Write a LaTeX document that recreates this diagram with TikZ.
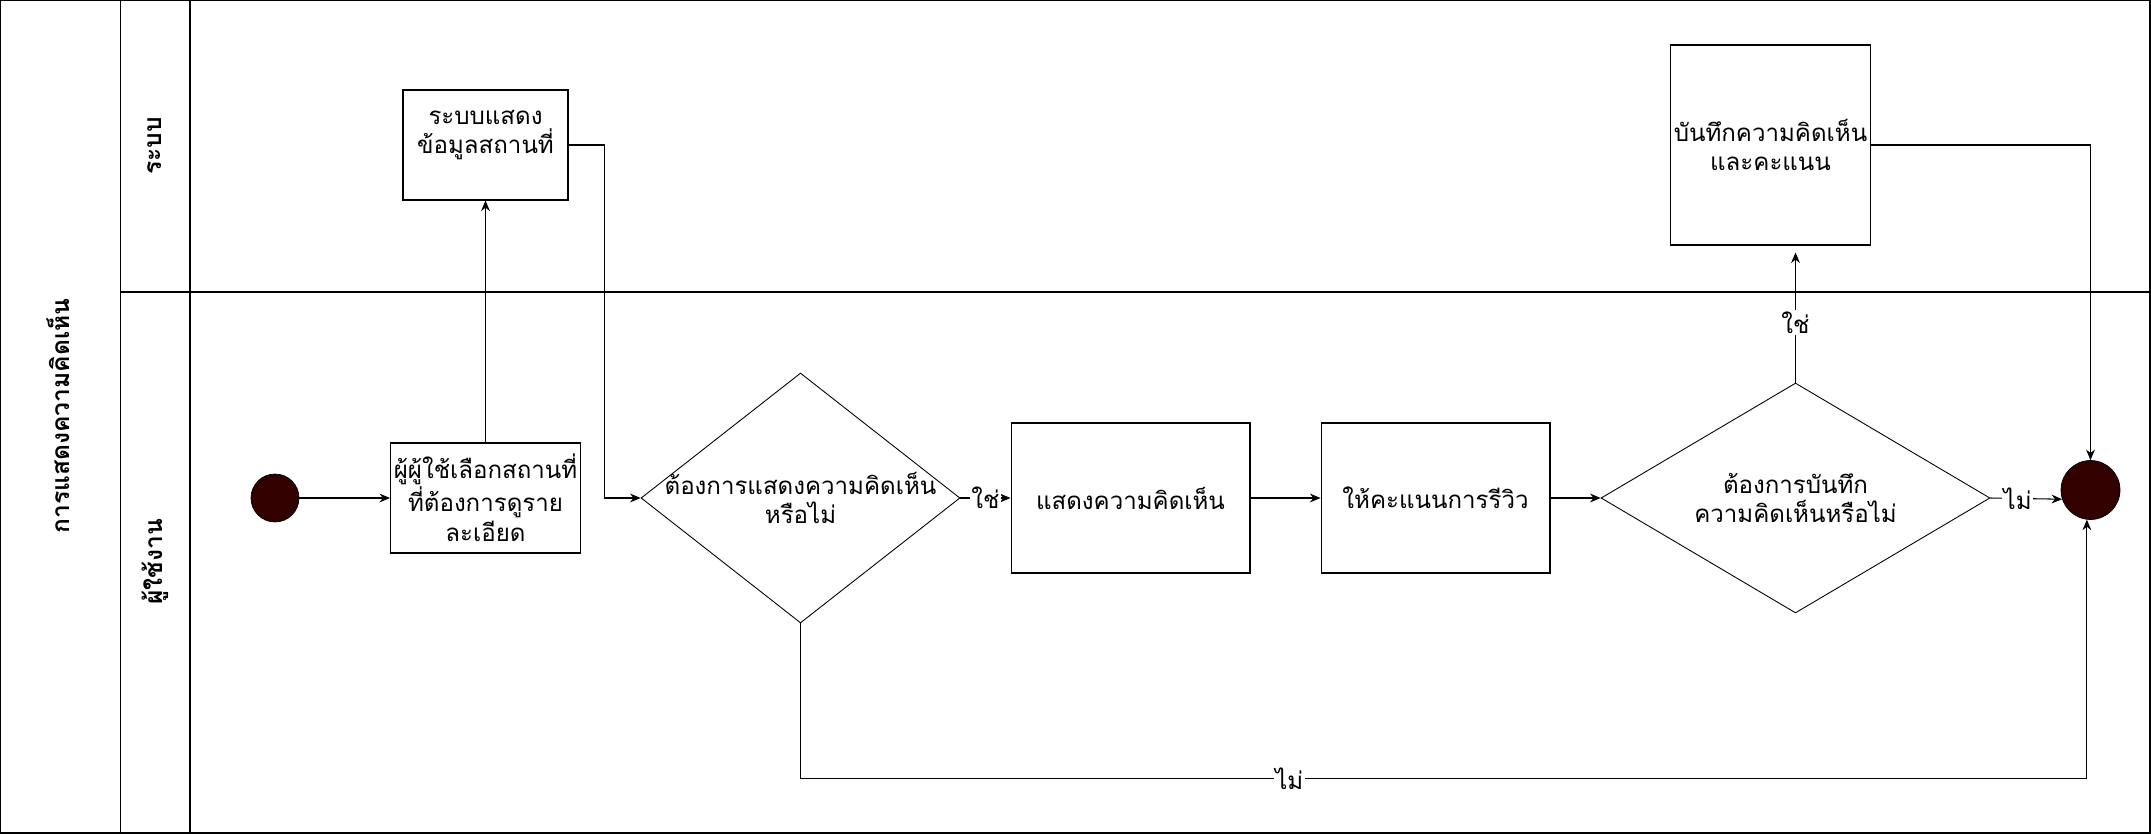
\documentclass[tikz,border=0pt]{standalone}
\usepackage{fontspec}
\setmainfont{Loma}[Script=Thai]
\newfontfamily\thaifont[Script=Thai]{Loma}
\usepackage{tikz}
\usetikzlibrary{positioning}
\usetikzlibrary{shapes.geometric}
\usetikzlibrary{arrows.meta}
\definecolor{dotColor}{HTML}{330000}

\begin{document}
\begin{tikzpicture}[x=0.02cm, y=-0.02cm, font=\thaifont\fontsize{13.7}{17}\selectfont]

            \tikzstyle{laneLine} = [line width=0.8pt, black];
            \tikzstyle{laneTitle} = [rotate=90, font=\thaifont\bfseries\fontsize{14}{17}\selectfont];
            \tikzstyle{stepBox} = [shape=rectangle, draw, line width=0.6pt, inner sep=1pt, align=center];
            \tikzstyle{askNode} = [shape=diamond, draw, line width=0.5pt, inner sep=0pt];
            \tikzstyle{dotNode} = [shape=circle, draw=black, fill=dotColor, inner sep=0pt];
            \tikzstyle{flowEdge} = [line width=0.6pt, -{Stealth[length=6pt,width=5pt]}];
            \tikzstyle{edgeLabel} = [fill=white, inner sep=1pt];

            \useasboundingbox (0,0) rectangle (2151,834);

            \draw[laneLine] (0,0) rectangle (2150,833);
            \draw[laneLine] (120.5,0) -- (120.5,833);
            \draw[laneLine] (190,0) -- (190,833);
            \draw[laneLine] (120.5,292) -- (2150,292);

            \node[laneTitle] (pool)  at (58,416) {การแสดงความคิดเห็น};
            \node[laneTitle] (sysLane)  at (155,146) {ระบบ};
            \node[laneTitle] (userLane) at (155,562) {ผู้ใช้งาน};

            \node[dotNode, minimum size=0.96cm] (start) at (275,498) {};
            \node[stepBox, minimum width=3.8cm, minimum height=2.2cm] (choose) at (485.5,498)
                {ผู้ผู้ใช้เลือกสถานที่\\ที่ต้องการดูราย\\ละเอียด};
            \node[stepBox, minimum width=3.3cm, minimum height=2.2cm,
                  label={[align=center, yshift=0.2cm]center:ระบบแสดง\\ข้อมูลสถานที่}] (showInfo) at (485.5,145) {};

            \node[askNode, minimum width=6.38cm, minimum height=5cm,
                  label={[align=center]center:ต้องการแสดงความคิดเห็น\\หรือไม่}] (askComment) at (800.5,498) {};
            \node[stepBox, minimum width=4.78cm, minimum height=3cm] (comment) at (1130.5,498) {แสดงความคิดเห็น};
            \node[stepBox, minimum width=4.58cm, minimum height=3cm] (rate) at (1435.5,498) {ให้คะแนนการรีวิว};
            \node[askNode, minimum width=7.78cm, minimum height=4.6cm,
                  label={[align=center]center:ต้องการบันทึก\\ความคิดเห็นหรือไม่}] (askSave) at (1795.5,498) {};
            \node[stepBox, minimum width=4cm, minimum height=4cm] (saveBox) at (1770.5,145)
                {บันทึกความคิดเห็น\\และคะแนน};
            \node[dotNode, minimum size=1.18cm] (stop) at (2090.5,490) {};

            \draw[flowEdge] (start) -- (choose);
            \draw[flowEdge] (choose) -- (showInfo);
            \draw[flowEdge] (showInfo.east) -- ++(36,0) |- (askComment.west);
            \draw[flowEdge] (askComment.east) -- node[edgeLabel] {ใช่} (comment.west);
            \draw[flowEdge] (comment) -- (rate);
            \draw[flowEdge] (rate) -- (askSave.west);
            \draw[flowEdge] (askSave.north) -- node[edgeLabel, pos=0.46] {ใช่} ([yshift=-0.14cm]askSave.north |- saveBox.south);
            \draw[flowEdge] (askSave.east) -- node[edgeLabel, pos=0.38] {ไม่} (stop.198);
            \draw[flowEdge] (saveBox.east) -| (stop.north);
            \draw[flowEdge] (askComment.south) -- ++(0,155) -| node[edgeLabel, pos=0.19] {ไม่} (stop.263);

\end{tikzpicture}
\end{document}
